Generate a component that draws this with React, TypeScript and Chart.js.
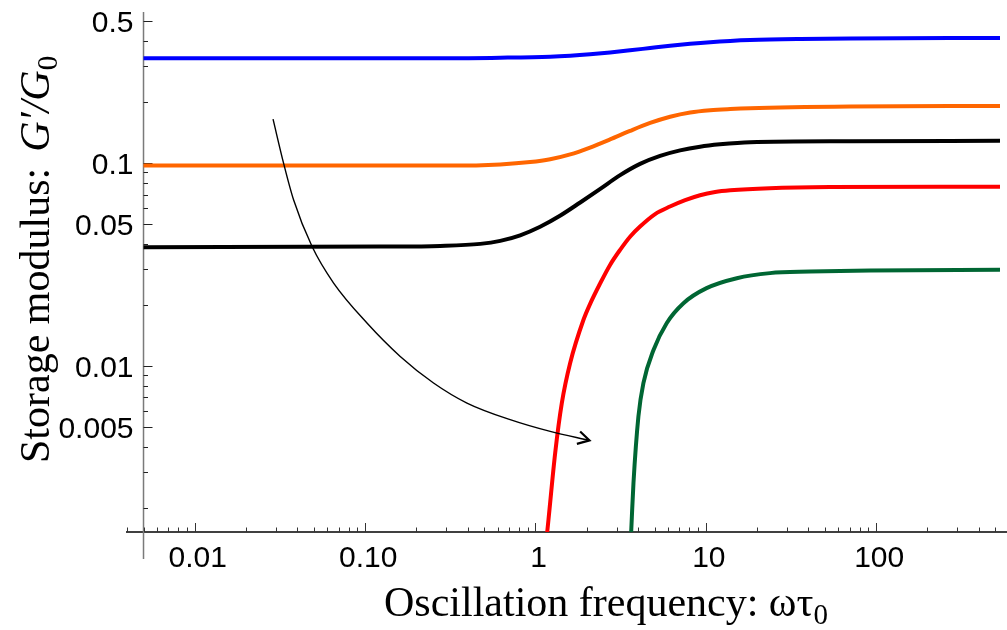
import React, { useEffect, useRef } from "react";
import { Chart, registerables } from "chart.js";

Chart.register(...registerables);

// ---- data ----
const freqBlue = [0.005, 0.299, 0.621, 1.22, 1.6, 2.09, 2.74, 3.59, 4.71, 6.17, 8.09, 10.6, 13.9, 18.2, 35.9, 70.3, 533];
const gBlue = [0.329, 0.329, 0.3311, 0.335, 0.3388, 0.3442, 0.3512, 0.3598, 0.3694, 0.3791, 0.3877, 0.3949, 0.4004, 0.4043, 0.4093, 0.4121, 0.414];

const freqOrange = [0.005, 0.317, 0.621, 0.931, 1.22, 1.6, 2.09, 2.74, 3.59, 4.71, 6.17, 8.09, 10.6, 13.9, 18.2, 70.3, 533];
const gOrange = [0.0973, 0.0973, 0.0986, 0.1012, 0.1045, 0.1104, 0.1194, 0.1309, 0.1442, 0.1578, 0.1694, 0.1778, 0.1824, 0.1849, 0.1866, 0.1901, 0.1914];

const freqBlack = [0.005, 0.123, 0.276, 0.474, 0.621, 0.813, 1.065, 1.4, 1.83, 2.4, 3.14, 4.11, 5.39, 7.06, 9.25, 12.1, 18.2, 70, 533];
const gBlack = [0.0385, 0.0388, 0.0391, 0.04, 0.0414, 0.0441, 0.0486, 0.0552, 0.064, 0.0747, 0.0873, 0.0992, 0.1086, 0.1156, 0.1206, 0.1238, 0.1269, 0.1284, 0.1288];

const freqRed = [1.16, 1.192, 1.305, 1.428, 1.598, 1.913, 2.09, 2.4, 2.74, 3.14, 3.59, 4.11, 5.04, 6.16, 7.56, 9.25, 11.34, 13.9, 23.7, 53.5, 533];
const gRed = [0.0014, 0.00175, 0.00373, 0.00658, 0.01035, 0.0169, 0.0202, 0.0256, 0.0315, 0.0374, 0.0434, 0.0487, 0.0561, 0.0611, 0.0657, 0.0695, 0.0721, 0.0735, 0.0753, 0.0762, 0.0765];

const freqGreen = [3.63, 3.68, 3.76, 4.02, 4.3, 4.93, 5.9, 7.39, 10.1, 15.2, 23.8, 40.9, 92, 533];
const gGreen = [0.0014, 0.00182, 0.00265, 0.00565, 0.00824, 0.012, 0.0163, 0.0204, 0.0242, 0.0271, 0.0287, 0.0292, 0.0296, 0.0298];

const freqArrow = [0.0288, 0.0332, 0.038, 0.0488, 0.0653, 0.1025, 0.1607, 0.252, 0.396, 0.71, 1.22, 2.075];
const gArrow = [0.1647, 0.1, 0.066, 0.0388, 0.02565, 0.01629, 0.01115, 0.00825, 0.00657, 0.00544, 0.00476, 0.0043];

const freqArrowHead = [1.829, 2.075, 1.75];
const gArrowHead = [0.00476, 0.0043, 0.00413];

const xMajorTicks = [0.01, 0.1, 1, 10, 100];
const xTickLabels = ["0.01", "0.10", "1", "10", "100"];
const xMinorTicks = [
  0.004, 0.005, 0.006, 0.007, 0.008, 0.009,
  0.02, 0.03, 0.04, 0.05, 0.06, 0.07, 0.08, 0.09,
  0.2, 0.3, 0.4, 0.5, 0.6, 0.7, 0.8, 0.9,
  2, 3, 4, 5, 6, 7, 8, 9,
  20, 30, 40, 50, 60, 70, 80, 90,
  200, 300, 400, 500,
];
const yMajorTicks = [0.5, 0.1, 0.05, 0.01, 0.005];
const yTickLabels = ["0.5", "0.1", "0.05", "0.01", "0.005"];
const yMinorTicks = [0.4, 0.3, 0.2, 0.09, 0.08, 0.07, 0.06, 0.04, 0.03, 0.02, 0.009, 0.008, 0.007, 0.006, 0.004, 0.003, 0.002];

const X_MIN = 0.004;
const X_MAX = 586;
const Y_MIN = 0.00152;
const Y_MAX = 0.556;
const Y_AXIS_AT = 0.005;

const TICK_FONT = '30px "Liberation Sans", Arial, sans-serif';
const TITLE_FONT = '42px "Liberation Serif", "Times New Roman", serif';
const TITLE_ITALIC = 'italic 42px "Liberation Serif", "Times New Roman", serif';
const SUB_FONT = '29px "Liberation Serif", "Times New Roman", serif';

const pts = (xs: number[], ys: number[]) => xs.map((x, i) => ({ x, y: ys[i] }));

const axesPlugin = {
  id: "mmaAxes",
  beforeDatasetsDraw(chart: any) {
    const { ctx, chartArea, scales } = chart;
    const xs = scales.x;
    const ys = scales.y;
    const ax = xs.getPixelForValue(Y_AXIS_AT);
    const ay = chartArea.bottom;
    ctx.save();
    // x axis line
    ctx.strokeStyle = "#000";
    ctx.lineWidth = 1.3;
    ctx.beginPath();
    ctx.moveTo(chartArea.left - 1, ay);
    ctx.lineTo(chart.width, ay);
    ctx.stroke();
    // y axis line
    ctx.strokeStyle = "#7a7a7a";
    ctx.lineWidth = 1.5;
    ctx.beginPath();
    ctx.moveTo(ax, chartArea.top);
    ctx.lineTo(ax, ay + 27);
    ctx.stroke();
    // x ticks
    ctx.lineWidth = 1;
    ctx.strokeStyle = "#333";
    const xt = (v: number, len: number) => {
      const px = Math.round(xs.getPixelForValue(v)) + 0.5;
      ctx.beginPath();
      ctx.moveTo(px, ay);
      ctx.lineTo(px, ay - len);
      ctx.stroke();
    };
    xMajorTicks.forEach((v) => xt(v, 9));
    xMinorTicks.forEach((v) => xt(v, 4.5));
    // y ticks
    ctx.strokeStyle = "#222";
    const yt = (v: number, len: number) => {
      const py = Math.round(ys.getPixelForValue(v)) + 0.5;
      ctx.beginPath();
      ctx.moveTo(ax, py);
      ctx.lineTo(ax + len, py);
      ctx.stroke();
    };
    yMajorTicks.forEach((v) => yt(v, 9));
    yMinorTicks.forEach((v) => yt(v, 4.5));

    // tick labels
    ctx.fillStyle = "#000";
    ctx.font = TICK_FONT;
    ctx.textAlign = "center";
    ctx.textBaseline = "alphabetic";
    xMajorTicks.forEach((v, i) => {
      ctx.fillText(xTickLabels[i], xs.getPixelForValue(v) + 3, ay + 35);
    });
    ctx.textAlign = "right";
    yMajorTicks.forEach((v, i) => {
      ctx.fillText(yTickLabels[i], ax - 10, ys.getPixelForValue(v) + 11);
    });

    // x title
    ctx.textAlign = "left";
    let x = 384;
    const by = 616;
    ctx.font = TITLE_FONT;
    const t1 = "Oscillation frequency: ωτ";
    ctx.fillText(t1, x, by);
    x += ctx.measureText(t1).width;
    ctx.font = SUB_FONT;
    ctx.fillText("0", x, by + 8);

    // y title (rotated)
    ctx.save();
    ctx.translate(49, 463);
    ctx.rotate(-Math.PI / 2);
    ctx.font = TITLE_FONT;
    const s1 = "Storage modulus:";
    ctx.fillText(s1, 0, 0);
    let p = ctx.measureText(s1).width + 16;
    ctx.font = TITLE_ITALIC;
    const s2 = "G\u2032/G";
    ctx.fillText(s2, p, 0);
    p += ctx.measureText(s2).width;
    ctx.font = SUB_FONT;
    ctx.fillText("0", p, 8);
    ctx.restore();

    ctx.restore();
  },
};

export default function App() {
  const ref = useRef<HTMLCanvasElement | null>(null);
  useEffect(() => {
    document.body.style.margin = "0";
    const canvas = ref.current;
    if (!canvas) return;
    const curve = (data: any, color: string) => ({
      data,
      borderColor: color,
      backgroundColor: color,
      borderWidth: 4,
      pointRadius: 0,
      showLine: true,
      fill: false,
      cubicInterpolationMode: "monotone" as const,
      clip: 0,
    });
    const chart = new Chart(canvas, {
      type: "scatter",
      data: {
        datasets: [
          {
            data: pts(freqArrowHead, gArrowHead),
            borderColor: "#000",
            borderWidth: 2.2,
            pointRadius: 0,
            showLine: true,
            tension: 0,
            clip: 0,
          },
          {
            data: pts(freqArrow, gArrow),
            borderColor: "#000",
            borderWidth: 1.4,
            pointRadius: 0,
            showLine: true,
            cubicInterpolationMode: "monotone",
            clip: 0,
          },
          curve(pts(freqBlue, gBlue), "#0000ff"),
          curve(pts(freqOrange, gOrange), "#ff6600"),
          curve(pts(freqBlack, gBlack), "#000000"),
          curve(pts(freqRed, gRed), "#ff0000"),
          curve(pts(freqGreen, gGreen), "#006633"),
        ],
      },
      options: {
        responsive: false,
        devicePixelRatio: 1,
        animation: false,
        layout: { padding: { left: 127, right: 0, top: 12, bottom: 98 } },
        scales: {
          x: { type: "logarithmic", min: X_MIN, max: X_MAX, display: false },
          y: { type: "logarithmic", min: Y_MIN, max: Y_MAX, display: false },
        },
        plugins: { legend: { display: false }, tooltip: { enabled: false } },
      },
      plugins: [axesPlugin],
    });
    return () => chart.destroy();
  }, []);
  return (
    <div style={{ position: "fixed", left: 0, top: 0, width: 1007, height: 630, background: "#fff" }}>
      <canvas ref={ref} width={1007} height={630} style={{ display: "block" }} />
    </div>
  );
}
